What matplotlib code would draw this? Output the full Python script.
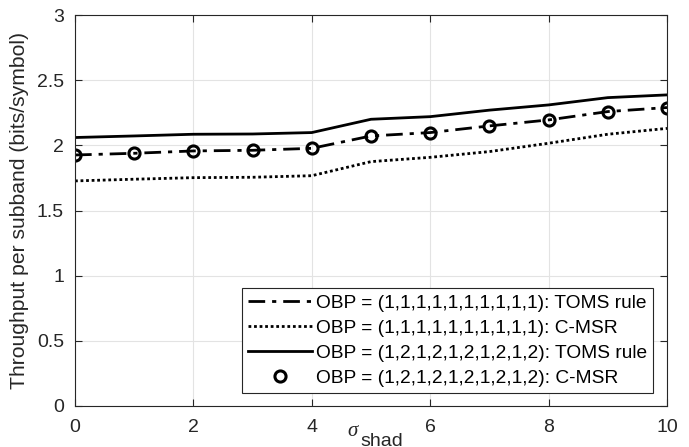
import matplotlib
matplotlib.use("Agg")
import matplotlib.pyplot as plt

plt.rcParams["font.family"] = ["Liberation Sans", "DejaVu Sans"]

sigma = [0, 1, 2, 3, 4, 5, 6, 7, 8, 9, 10]
toms_uniform = [1.926, 1.939, 1.957, 1.962, 1.977, 2.072, 2.098, 2.149, 2.195, 2.259, 2.290]
cmsr_uniform = [1.727, 1.740, 1.752, 1.755, 1.767, 1.875, 1.908, 1.952, 2.016, 2.085, 2.130]
toms_alt = [2.060, 2.072, 2.085, 2.087, 2.098, 2.200, 2.220, 2.270, 2.310, 2.366, 2.387]
cmsr_alt = [1.926, 1.939, 1.957, 1.962, 1.977, 2.072, 2.098, 2.149, 2.195, 2.259, 2.290]

labels = [
    "OBP = (1,1,1,1,1,1,1,1,1,1): TOMS rule",
    "OBP = (1,1,1,1,1,1,1,1,1,1): C-MSR",
    "OBP = (1,2,1,2,1,2,1,2,1,2): TOMS rule",
    "OBP = (1,2,1,2,1,2,1,2,1,2): C-MSR",
]
ink = "#262626"

fig = plt.figure(figsize=(6.89, 4.47), dpi=100)
ax = fig.add_axes([75 / 689, 41 / 447, 592 / 689, 391 / 447])

ax.plot(sigma, toms_uniform, color="k", lw=2, ls=(0, (6, 2.5, 1.5, 2.5)), label=labels[0])
ax.plot(sigma, cmsr_uniform, color="k", lw=2, ls=(0, (1, 1)), label=labels[1])
ax.plot(sigma, toms_alt, color="k", lw=2, ls="-", label=labels[2])
ax.plot(sigma, cmsr_alt, color="k", lw=0, marker="o", ms=8, mfc="none", mew=2.2,
        label=labels[3])

ax.set_xlim(0, 10)
ax.set_ylim(0, 3)
ax.set_xticks([0, 2, 4, 6, 8, 10])
ax.set_yticks([0, 0.5, 1, 1.5, 2, 2.5, 3])
ax.set_yticklabels(["0", "0.5", "1", "1.5", "2", "2.5", "3"])
ax.grid(True, color="#e3e3e3", lw=0.8)
ax.set_axisbelow(True)
ax.tick_params(direction="in", labelsize=14, length=5, width=0.8, top=True, right=True,
               labeltop=False, labelright=False, color=ink, labelcolor=ink)
ax.tick_params(axis="x", pad=9)
ax.tick_params(axis="y", pad=8)
for s in ax.spines.values():
    s.set_linewidth(0.8)
    s.set_color(ink)

ax.set_ylabel("Throughput per subband (bits/symbol)", fontsize=15.2, color=ink)
ax.yaxis.set_label_coords(-0.078, 0.5)

# x label: italic sigma with upright subscript
fig.text(352 / 689, 1 - 432 / 447, "σ", fontsize=15, family="Liberation Serif",
         style="italic", ha="center", va="center", color=ink)
fig.text(360 / 689, 1 - 441 / 447, "shad", fontsize=14, ha="left", va="center", color=ink)

leg = ax.legend(loc="lower right", bbox_to_anchor=(578 / 592, 13 / 391), fontsize=13.8,
                frameon=True, fancybox=False, edgecolor=ink, framealpha=1,
                borderaxespad=0, handlelength=3.3, handletextpad=0.22,
                labelspacing=0.4, borderpad=0.32)
leg.get_frame().set_linewidth(0.8)
for t in leg.get_texts():
    t.set_color("k")

fig.savefig("out.png", dpi=100)
